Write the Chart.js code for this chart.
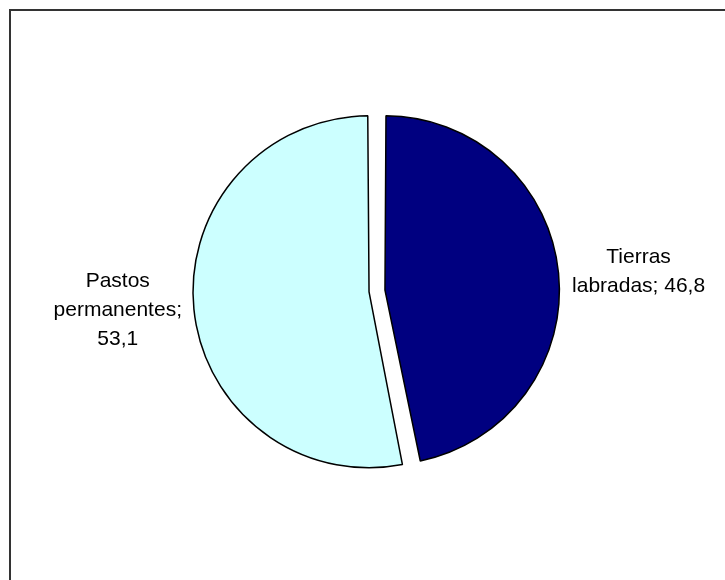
<!DOCTYPE html>
<html>
<head>
<meta charset="utf-8">
<script src="https://cdn.jsdelivr.net/npm/chart.js@4.4.0/dist/chart.umd.min.js"></script>
<style>
  html, body { margin: 0; padding: 0; background: #fff; }
  #box { position: relative; width: 725px; height: 580px; }
</style>
</head>
<body>
<div id="box"><canvas id="piechart" width="725" height="580"></canvas></div>
<script>
//DATA
var categories = ["Tierras labradas", "Pastos permanentes"];
var values = [46.8, 53.1];
var sliceColors = ["#000080", "#CCFFFF"];

//frame round the chart, like the excel chart area
var framePlugin = {
    id: "frame",
    beforeDraw: function (chart) {
        var ctx = chart.ctx;
        ctx.save();
        ctx.fillStyle = "#fff";
        ctx.fillRect(0, 0, chart.width, chart.height);
        ctx.strokeStyle = "#333";
        ctx.lineWidth = 2;
        ctx.strokeRect(10, 10, 900, 800);
        ctx.restore();
    }
};

//wrap a label into lines no wider than maxW
function wrapText(ctx, text, maxW) {
    var words = text.split(" ");
    var lines = [];
    var line = "";
    for (var i = 0; i < words.length; i++) {
        var test = line ? line + " " + words[i] : words[i];
        if (line && ctx.measureText(test).width > maxW) {
            lines.push(line);
            line = words[i];
        } else {
            line = test;
        }
    }
    if (line) lines.push(line);
    return lines;
}

//data labels outside the slices ("name; value")
//the box edge nearest the pie sits a fixed gap away from it
var labelPlugin = {
    id: "outLabels",
    afterDatasetsDraw: function (chart) {
        var ctx = chart.ctx;
        var meta = chart.getDatasetMeta(0);
        ctx.save();
        ctx.font = "21px 'Liberation Sans', Arial, sans-serif";
        ctx.fillStyle = "#000";
        ctx.textAlign = "center";
        ctx.textBaseline = "middle";
        var lineH = 29;
        meta.data.forEach(function (arc, i) {
            var p = arc.getProps(["x", "y", "startAngle", "endAngle", "outerRadius"], true);
            var mid = (p.startAngle + p.endAngle) / 2;
            var dist = p.outerRadius + 28;
            var ax = p.x + Math.cos(mid) * dist;
            var ay = p.y + Math.sin(mid) * dist;
            var txt = categories[i] + "; " + String(values[i]).replace(".", ",");
            var lines = wrapText(ctx, txt, 140);
            var boxW = 0;
            lines.forEach(function (l) { boxW = Math.max(boxW, ctx.measureText(l).width); });
            var cx = Math.cos(mid) >= 0 ? ax + boxW / 2 : ax - boxW / 2;
            var top = ay - (lines.length - 1) * lineH / 2;
            for (var k = 0; k < lines.length; k++) {
                ctx.fillText(lines[k], cx, top + k * lineH);
            }
        });
        ctx.restore();
    }
};

new Chart("piechart", {
    type: "pie",
    data: {
        labels: categories,
        datasets: [{
            data: values,
            backgroundColor: sliceColors,
            borderColor: "#000",
            borderWidth: 1.5,
            offset: 32
        }]
    },
    options: {
        responsive: false,
        devicePixelRatio: 1,
        animation: false,
        radius: 168,
        layout: {
            padding: { left: 29, right: 0, top: 2, bottom: 0 }
        },
        plugins: {
            legend: { display: false },
            tooltip: { enabled: false }
        }
    },
    plugins: [framePlugin, labelPlugin]
});
</script>
</body>
</html>
